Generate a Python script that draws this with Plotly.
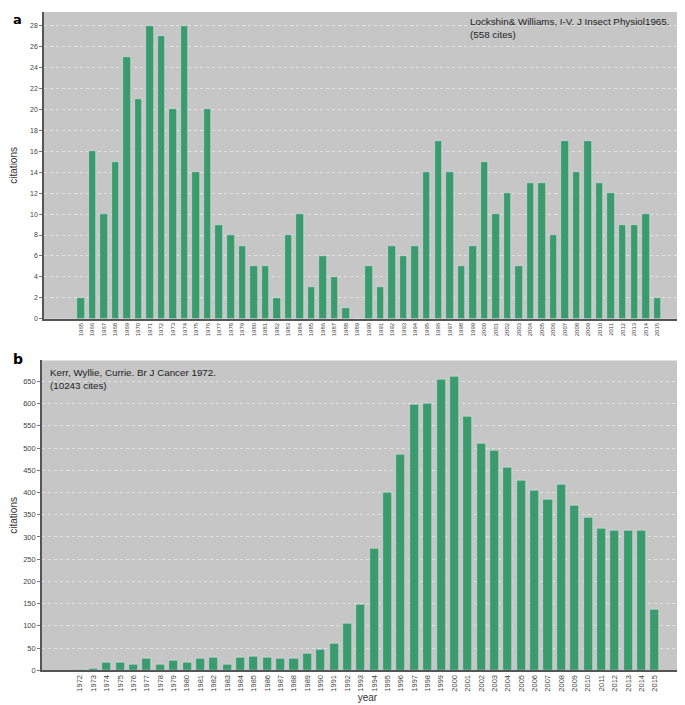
import plotly.graph_objects as go

years_a = list(range(1965, 2016))
cites_a = [2, 16, 10, 15, 25, 21, 28, 27, 20, 28, 14, 20, 9, 8, 7, 5, 5, 2, 8, 10,
           3, 6, 4, 1, 0, 5, 3, 7, 6, 7, 14, 17, 14, 5, 7, 15, 10, 12, 5, 13,
           13, 8, 17, 14, 17, 13, 12, 9, 9, 10, 2]
years_b = list(range(1972, 2016))
cites_b = [2, 5, 17, 17, 14, 26, 14, 23, 17, 26, 29, 14, 29, 32, 29, 27, 26, 37, 46, 61,
           105, 149, 273, 400, 485, 598, 601, 654, 660, 572, 510, 495, 456, 428, 405, 385,
           418, 370, 343, 319, 315, 315, 315, 137]
yticks_a = list(range(0, 29, 2))
yticks_b = list(range(0, 651, 50))

W, H = 685, 705
BG = "#c6c6c6"
GREEN = "#3b9b6d"
FONT = "Liberation Sans"

def px(x):
    return x / W

def py(y):
    return 1 - y / H

fig = go.Figure()
fig.add_trace(go.Bar(x=years_a, y=cites_a, marker_color=GREEN, width=0.65,
                     xaxis="x", yaxis="y", showlegend=False))
fig.add_trace(go.Bar(x=years_b, y=cites_b, marker_color=GREEN, width=0.68,
                     xaxis="x2", yaxis="y2", showlegend=False))

axis_common = dict(showline=True, linecolor="#555555", linewidth=1.5, zeroline=False)

fig.update_layout(
    width=W, height=H,
    margin=dict(l=0, r=0, t=0, b=0),
    paper_bgcolor="white",
    plot_bgcolor=BG,
    font=dict(family=FONT, color="#333333"),
    bargap=0,
    xaxis=dict(domain=[px(35), 1], anchor="y", range=[1961.8, 2018.1],
               tickmode="array", tickvals=years_a, ticktext=[str(v) for v in years_a],
               tickangle=-90, tickfont=dict(size=6, color="#444444"),
               showgrid=False, ticks="", **axis_common),
    yaxis=dict(domain=[py(313), py(4)], anchor="x", range=[0, 29.3],
               tickmode="array", tickvals=yticks_a, ticktext=[str(v) for v in yticks_a],
               tickfont=dict(size=7, color="#444444"),
               showgrid=True, gridcolor="#e2e2e2", griddash="dot", gridwidth=1,
               ticks="outside", ticklen=3, tickcolor="#777777",
               title=dict(text="citations", font=dict(size=10, color="#333333"), standoff=11),
               **axis_common),
    xaxis2=dict(domain=[px(33), 1], anchor="y2", range=[1969.15, 2017.85],
                tickmode="array", tickvals=years_b, ticktext=[str(v) for v in years_b],
                tickangle=-90, tickfont=dict(size=7.5, color="#444444"),
                showgrid=False, ticks="",
                title=dict(text="year", font=dict(size=10, color="#333333"), standoff=2),
                **axis_common),
    yaxis2=dict(domain=[py(667), py(355)], anchor="x2", range=[0, 697],
                tickmode="array", tickvals=yticks_b, ticktext=[str(v) for v in yticks_b],
                tickfont=dict(size=7.5, color="#444444"),
                showgrid=True, gridcolor="#e2e2e2", griddash="dot", gridwidth=1,
                ticks="outside", ticklen=3, tickcolor="#777777",
                title=dict(text="citations", font=dict(size=10, color="#333333"), standoff=8),
                **axis_common),
    annotations=[
        dict(text="<b>a</b>", x=px(2), y=py(2), xref="paper", yref="paper",
             xanchor="left", yanchor="top", showarrow=False,
             font=dict(size=13, color="black", family="DejaVu Sans")),
        dict(text="<b>b</b>", x=px(2), y=py(343), xref="paper", yref="paper",
             xanchor="left", yanchor="top", showarrow=False,
             font=dict(size=14, color="black", family="DejaVu Sans")),
        dict(text="Lockshin& Williams, I-V. J Insect Physiol1965.<br>(558 cites)",
             x=px(460), y=py(6), xref="paper", yref="paper", align="left",
             xanchor="left", yanchor="top", showarrow=False,
             font=dict(size=9.8, color="#222222")),
        dict(text="Kerr, Wyllie, Currie. Br J Cancer 1972.<br>(10243 cites)",
             x=px(39), y=py(360), xref="paper", yref="paper", align="left",
             xanchor="left", yanchor="top", showarrow=False,
             font=dict(size=9.8, color="#222222")),
    ],
)

fig.write_html("out.html")
